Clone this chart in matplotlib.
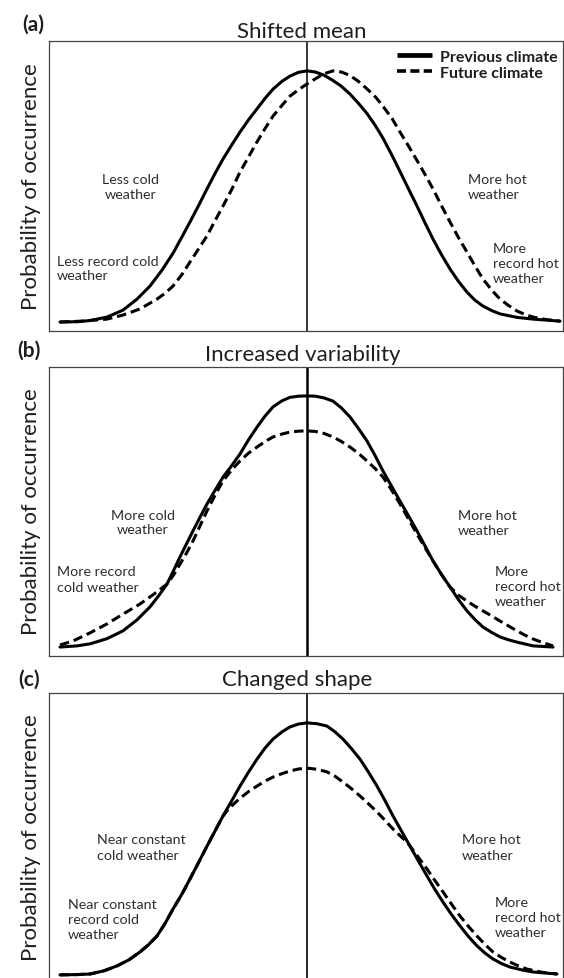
import matplotlib
matplotlib.use("Agg")
import matplotlib.pyplot as plt
from matplotlib.lines import Line2D

plt.rcParams['font.family'] = ['Lato', 'DejaVu Sans']

# ---------------- data ----------------
panel_labels = ["(a)", "(b)", "(c)"]
titles = ["Shifted mean", "Increased variability", "Changed shape"]
ylabel = "Probability of occurrence"
legend_labels = ["Previous climate", "Future climate"]

# Panel (a): shifted mean
a_prev_x = [-4.94, -4.6, -4.34, -4.0, -3.68, -3.4, -3.14, -2.9, -2.68, -2.5, -2.34, -2.17, -2.0, -1.84, -1.68,
            -1.5, -1.34, -1.17, -1.0, -0.84, -0.68, -0.5, -0.34, -0.17, 0.0,
            0.17, 0.34, 0.5, 0.68, 0.86, 1.03, 1.2, 1.36, 1.52, 1.69, 1.86, 2.03, 2.2, 2.36, 2.52, 2.69,
            2.86, 3.03, 3.2, 3.36, 3.52, 3.7, 3.86, 4.2, 4.52, 5.06]
a_prev_y = [0.031, 0.032, 0.036, 0.048, 0.072, 0.110, 0.155, 0.210, 0.268, 0.325, 0.376, 0.432, 0.490, 0.543, 0.593,
            0.643, 0.686, 0.728, 0.766, 0.802, 0.834, 0.861, 0.879, 0.892, 0.897,
            0.893, 0.882, 0.866, 0.845, 0.817, 0.785, 0.750, 0.710, 0.665, 0.609, 0.550, 0.490, 0.431, 0.373,
            0.317, 0.263, 0.214, 0.171, 0.134, 0.106, 0.086, 0.070, 0.059, 0.047, 0.041, 0.034]
a_fut_x = [-4.94, -4.5, -4.0, -3.68, -3.34, -3.0, -2.84, -2.68, -2.5, -2.34, -2.17, -2.0, -1.84, -1.68, -1.5,
           -1.34, -1.17, -1.0, -0.84, -0.68, -0.5, -0.34, -0.17, 0.0, 0.17, 0.34, 0.52, 0.69, 0.86, 1.02,
           1.2, 1.38, 1.52, 1.7, 1.86, 2.03, 2.2, 2.36, 2.52, 2.69, 2.86, 3.03, 3.2, 3.36, 3.52, 3.7, 3.86,
           4.03, 4.2, 4.36, 4.52, 4.8, 5.06]
a_fut_y = [0.031, 0.034, 0.041, 0.055, 0.076, 0.110, 0.130, 0.155, 0.195, 0.238, 0.283, 0.328, 0.380, 0.431, 0.490,
           0.548, 0.600, 0.652, 0.698, 0.741, 0.778, 0.810, 0.832, 0.852, 0.870, 0.887, 0.897, 0.893, 0.881, 0.862,
           0.835, 0.805, 0.775, 0.733, 0.686, 0.638, 0.588, 0.540, 0.490, 0.432, 0.376, 0.322, 0.272, 0.224, 0.179,
           0.140, 0.110, 0.088, 0.069, 0.057, 0.048, 0.039, 0.034]

# Panel (b): increased variability
b_prev_x = [-4.94, -4.6, -4.34, -4.0, -3.68, -3.4, -3.14, -2.96, -2.8, -2.67, -2.54, -2.41, -2.28, -2.14, -2.0,
            -1.84, -1.68, -1.5, -1.34, -1.17, -1.0, -0.84, -0.68, -0.5, -0.34, -0.17, 0.0,
            0.17, 0.34, 0.52, 0.69, 0.86, 1.03, 1.2, 1.36, 1.52, 1.69, 1.86, 2.03, 2.2, 2.36, 2.52, 2.69,
            2.86, 3.03, 3.2, 3.36, 3.52, 3.7, 3.86, 4.03, 4.2, 4.52, 4.92]
b_prev_y = [0.031, 0.035, 0.042, 0.060, 0.087, 0.125, 0.170, 0.210, 0.249, 0.295, 0.343, 0.388, 0.433, 0.480, 0.526,
            0.573, 0.619, 0.660, 0.699, 0.748, 0.792, 0.830, 0.862, 0.883, 0.895, 0.899, 0.900,
            0.899, 0.893, 0.882, 0.858, 0.827, 0.787, 0.744, 0.694, 0.640, 0.588, 0.536, 0.485, 0.433, 0.381,
            0.329, 0.282, 0.239, 0.195, 0.156, 0.126, 0.100, 0.081, 0.066, 0.056, 0.048, 0.035, 0.031]
b_fut_x = [-4.94, -4.68, -4.34, -4.0, -3.68, -3.34, -3.07, -2.8, -2.67, -2.54, -2.41, -2.28, -2.14, -2.0, -1.84,
           -1.68, -1.5, -1.34, -1.17, -1.0, -0.84, -0.68, -0.5, -0.34, -0.17, 0.0, 0.17, 0.34, 0.52, 0.69,
           0.86, 1.03, 1.2, 1.36, 1.52, 1.69, 1.86, 2.03, 2.2, 2.36, 2.52, 2.69, 2.86, 3.03, 3.2, 3.36,
           3.52, 3.7, 3.86, 4.03, 4.2, 4.36, 4.52, 4.72, 4.92]
b_fut_y = [0.038, 0.052, 0.080, 0.111, 0.145, 0.180, 0.213, 0.249, 0.280, 0.318, 0.356, 0.398, 0.450, 0.502, 0.556,
           0.606, 0.645, 0.675, 0.702, 0.723, 0.742, 0.758, 0.768, 0.775, 0.778, 0.779, 0.777, 0.770, 0.758, 0.742,
           0.723, 0.701, 0.675, 0.649, 0.619, 0.575, 0.526, 0.474, 0.422, 0.375, 0.329, 0.282, 0.239, 0.210, 0.190,
           0.172, 0.156, 0.138, 0.121, 0.104, 0.087, 0.072, 0.059, 0.046, 0.035]

# Panel (c): changed shape
c_prev_x = [-4.94, -4.6, -4.34, -4.06, -3.8, -3.56, -3.34, -3.17, -3.0, -2.84, -2.68, -2.5, -2.34, -2.17, -2.0,
            -1.84, -1.68, -1.5, -1.34, -1.17, -1.0, -0.84, -0.68, -0.5, -0.34, -0.17, 0.0,
            0.2, 0.4, 0.56, 0.72, 0.89, 1.06, 1.23, 1.4, 1.56, 1.72, 1.89, 2.06, 2.23, 2.4, 2.56, 2.72,
            2.89, 3.06, 3.23, 3.4, 3.56, 3.72, 3.89, 4.06, 4.3, 4.52, 5.0]
c_prev_y = [0.028, 0.029, 0.031, 0.042, 0.059, 0.080, 0.107, 0.132, 0.162, 0.205, 0.255, 0.307, 0.359, 0.415, 0.472,
            0.524, 0.576, 0.630, 0.679, 0.727, 0.772, 0.810, 0.841, 0.866, 0.883, 0.893, 0.897,
            0.894, 0.886, 0.866, 0.841, 0.808, 0.772, 0.727, 0.679, 0.629, 0.576, 0.524, 0.472, 0.420, 0.369,
            0.322, 0.279, 0.236, 0.197, 0.160, 0.128, 0.103, 0.083, 0.067, 0.055, 0.045, 0.038, 0.031]
c_fut_x = [-4.94, -4.6, -4.34, -4.06, -3.8, -3.56, -3.34, -3.17, -3.0, -2.84, -2.68, -2.5, -2.34, -2.17, -2.0,
           -1.84, -1.68, -1.55, -1.34, -1.17, -1.0, -0.84, -0.68, -0.5, -0.34, -0.17, 0.0,
           0.2, 0.4, 0.56, 0.72, 0.89, 1.06, 1.23, 1.4, 1.56, 1.72, 1.86, 2.0, 2.2, 2.4, 2.56, 2.72,
           2.89, 3.06, 3.23, 3.4, 3.56, 3.72, 3.89, 4.06, 4.23, 4.4, 4.7, 5.0]
c_fut_y = [0.028, 0.029, 0.031, 0.042, 0.059, 0.080, 0.107, 0.132, 0.162, 0.205, 0.255, 0.307, 0.359, 0.415, 0.472,
           0.524, 0.576, 0.604, 0.637, 0.660, 0.679, 0.696, 0.710, 0.722, 0.731, 0.738, 0.741,
           0.737, 0.728, 0.713, 0.693, 0.670, 0.645, 0.618, 0.590, 0.561, 0.531, 0.508, 0.486, 0.440, 0.393,
           0.353, 0.314, 0.272, 0.231, 0.195, 0.162, 0.133, 0.107, 0.088, 0.072, 0.059, 0.048, 0.037, 0.031]

prev_x = [a_prev_x, b_prev_x, c_prev_x]
prev_y = [a_prev_y, b_prev_y, c_prev_y]
fut_x = [a_fut_x, b_fut_x, c_fut_x]
fut_y = [a_fut_y, b_fut_y, c_fut_y]

annotations = [
    ["Less cold\nweather", "Less record cold\nweather", "More hot\nweather", "More\nrecord hot\nweather"],
    ["More cold\nweather", "More record\ncold weather", "More hot\nweather", "More\nrecord hot\nweather"],
    ["Near constant\ncold weather", "Near constant\nrecord cold\nweather", "More hot\nweather", "More\nrecord hot\nweather"],
]

# ---------------- layout (pixels) ----------------
W, H = 564, 979
fig = plt.figure(figsize=(W / 100, H / 100), dpi=100)
fig.patch.set_facecolor("white")

def fx(px):
    return px / W

def fy(py):
    return 1 - py / H

frames = [(49, 42, 563, 332), (49, 368, 563, 657), (49, 694, 563, 984)]
title_pos = [(302, 38), (303, 361), (297, 686)]
label_pos = [(33, 25), (29, 351), (29, 680)]
ylabel_y = [187, 512, 838]
vline_w = [1.1, 1.8, 1.2]
ann_pos = [
    [(131, 188, "center"), (57, 269, "left"), (468, 188, "left"), (493, 264, "left")],
    [(143, 523, "center"), (57, 580, "left"), (458, 524, "left"), (495, 587, "left")],
    [(97, 848, "left"), (68, 920, "left"), (462, 848, "left"), (495, 918, "left")],
]

text_col = "#1e1e1e"
ann_col = "#2e2e2e"

for i, (l, t, r, b) in enumerate(frames):
    ax = fig.add_axes([fx(l), fy(b), (r - l) / W, (b - t) / H])
    ax.set_xlim(-5.16, 5.12)
    ax.set_ylim(0, 1)
    ax.set_xticks([])
    ax.set_yticks([])
    for s in ax.spines.values():
        s.set_color("#444444")
        s.set_linewidth(0.9)
    ax.axvline(0, color="black", lw=vline_w[i], zorder=1)
    ax.plot(prev_x[i], prev_y[i], color="black", lw=2.2, solid_capstyle="round",
            solid_joinstyle="round", zorder=3)
    ax.plot(fut_x[i], fut_y[i], color="black", lw=2.2, linestyle=(0, (3.1, 1.6)),
            dash_joinstyle="round", zorder=4)

    fig.text(fx(title_pos[i][0]), fy(title_pos[i][1]), titles[i], ha="center", va="baseline",
             fontsize=16, color=text_col)
    fig.text(fx(label_pos[i][0]), fy(label_pos[i][1]), panel_labels[i], ha="center", va="center",
             fontsize=15, fontweight="bold", color=text_col)
    fig.text(fx(31), fy(ylabel_y[i]), ylabel, rotation=90,
             ha="center", va="center", fontsize=16, color=text_col)

    for txt, (px, py, ha) in zip(annotations[i], ann_pos[i]):
        fig.text(fx(px), fy(py), txt, ha=ha, va="center", fontsize=10.3, color=ann_col,
                 linespacing=1.3)

    if i == 0:
        handles = [Line2D([], [], color="black", lw=3.4, solid_capstyle="butt"),
                   Line2D([], [], color="black", lw=2.6, linestyle=(0, (2.5, 1.2)))]
        leg = ax.legend(handles, legend_labels, loc="upper right", bbox_to_anchor=(1.006, 1.0),
                        frameon=False, handlelength=2.2, handletextpad=0.45, labelspacing=0.1,
                        borderaxespad=0.15, prop={"weight": "bold", "size": 11.5})
        for tx in leg.get_texts():
            tx.set_color(text_col)

fig.savefig("out.png", dpi=100, facecolor="white")
